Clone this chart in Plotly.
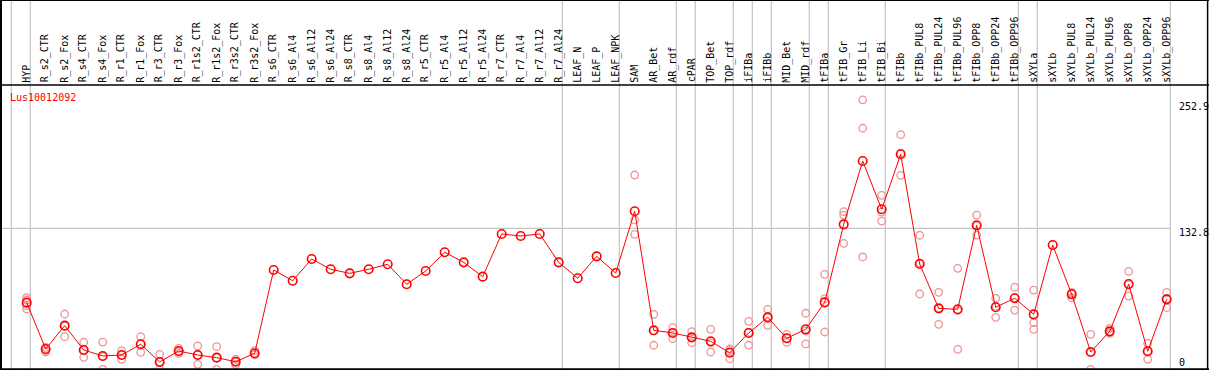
import plotly.graph_objects as go

# ---------------- data ----------------
categories = [
    "HYP", "R_s2_CTR", "R_s2_Fox", "R_s4_CTR", "R_s4_Fox", "R_r1_CTR", "R_r1_Fox",
    "R_r3_CTR", "R_r3_Fox", "R_r1s2_CTR", "R_r1s2_Fox", "R_r3s2_CTR", "R_r3s2_Fox",
    "R_s6_CTR", "R_s6_Al4", "R_s6_Al12", "R_s6_Al24", "R_s8_CTR", "R_s8_Al4",
    "R_s8_Al12", "R_s8_Al24", "R_r5_CTR", "R_r5_Al4", "R_r5_Al12", "R_r5_Al24",
    "R_r7_CTR", "R_r7_Al4", "R_r7_Al12", "R_r7_Al24", "LEAF_N", "LEAF_P", "LEAF_NPK",
    "SAM", "AR_Bet", "AR_rdf", "cPAR", "TOP_Bet", "TOP_rdf", "iFIBa", "iFIBb",
    "MID_Bet", "MID_rdf", "tFIBa", "tFIB_Gr", "tFIB_Li", "tFIB_Bi", "tFIBb",
    "tFIBb_PUL8", "tFIBb_PUL24", "tFIBb_PUL96", "tFIBb_OPP8", "tFIBb_OPP24",
    "tFIBb_OPP96", "sXYLa", "sXYLb", "sXYLb_PUL8", "sXYLb_PUL24", "sXYLb_PUL96",
    "sXYLb_OPP8", "sXYLb_OPP24", "sXYLb_OPP96",
]

mean_values = [
    63.3, 20.0, 41.8, 19.1, 13.5, 14.4, 24.4, 7.9, 18.1, 14.4, 11.9, 8.1, 16.0,
    93.8, 83.8, 104.1, 94.5, 90.7, 94.5, 99.2, 80.5, 92.9, 110.4, 101.0, 87.6,
    127.5, 125.6, 127.5, 101.0, 86.1, 106.6, 91.0,
    148.7, 37.5, 35.0, 30.9, 27.2, 16.5, 35.0, 49.6, 30.0, 38.4, 63.6,
    136.5, 195.7, 150.6, 202.0, 99.4, 58.0, 57.1, 135.6, 59.0, 67.4,
    52.4, 117.2, 71.1, 17.2, 36.5, 80.7, 17.9, 66.4,
]

replicate_values = [
    [68.0, 65.8, 60.5, 57.4], [21.6, 18.4, 17.2], [52.7, 41.5, 31.5], [26.3, 19.0, 12.2],
    [26.5, 13.0, 1.0], [18.4, 14.4, 10.4], [31.5, 24.5, 16.9], [15.0, 8.0, 1.0],
    [20.6, 17.5, 16.0], [22.8, 14.5, 5.7], [22.2, 12.0, 1.0], [10.4, 8.3, 5.5],
    [18.4, 15.3, 14.5],
    [], [], [], [], [], [], [], [], [], [], [], [], [], [], [], [], [], [], [],
    [182.6, 140.6, 127.2], [52.4, 37.0, 23.5], [39.9, 35.0, 29.6], [36.2, 30.5, 25.9],
    [38.4, 26.0, 17.2], [20.0, 18.5, 10.9], [45.9, 35.5, 23.5], [57.1, 49.5, 42.1],
    [33.7, 30.0, 26.3], [53.4, 37.0, 24.7], [89.8, 67.0, 35.9], [148.3, 145.2, 118.8],
    [252.9, 226.3, 106.0], [163.6, 148.0, 139.6], [220.3, 203.0, 182.3],
    [126.3, 100.5, 71.4], [73.0, 58.0, 43.1], [95.4, 56.0, 19.7], [145.2, 135.0, 126.5],
    [67.4, 60.0, 49.6], [77.7, 68.0, 56.4], [75.1, 44.6, 38.4], [],
    [73.0, 72.0, 67.9], [33.7, 17.0, 1.0], [39.3, 36.0, 34.7], [92.6, 80.0, 69.5],
    [25.3, 18.0, 10.4], [73.0, 67.0, 58.6],
]

gene_label = "Lus10012092"
y_tick_labels = ["252.9", "132.8", "0"]
grid_value = 132.8
# group separators: drawn after these categories ("" = before first)
separators_after = ["", "HYP", "R_r7_Al24", "LEAF_NPK", "AR_rdf", "cPAR", "TOP_rdf",
                    "iFIBa", "iFIBb", "MID_rdf", "tFIBa", "tFIB_Bi", "tFIBb_OPP96",
                    "sXYLa", "sXYLb_OPP96"]

# ---------------- layout geometry ----------------
W, H = 1209, 370
HEADER_PX = 85
FONT = "DejaVu Sans Mono"
GRAY = "#c4c4c4"


def py(pix):
    return 1 - pix / H


def px(pix):
    return pix / W


idx = list(range(len(categories)))
rx, ry = [], []
for i, reps in enumerate(replicate_values):
    for v in reps:
        rx.append(i)
        ry.append(v)

fig = go.Figure()
fig.add_trace(go.Scatter(
    x=rx, y=ry, mode="markers",
    marker=dict(symbol="circle-open", size=7.5, color="#ee9494", line=dict(width=1.3)),
    hoverinfo="skip", showlegend=False,
))
fig.add_trace(go.Scatter(
    x=idx, y=mean_values, mode="lines+markers",
    line=dict(color="#ff0000", width=1),
    marker=dict(symbol="circle-open", size=8.5, color="#ff0000", line=dict(width=1.6)),
    showlegend=False,
))

shapes = []
sep_offset = 0.19
for name in separators_after:
    k = -1 if name == "" else categories.index(name)
    shapes.append(dict(type="line", xref="x", yref="paper", x0=k + sep_offset, x1=k + sep_offset,
                       y0=0, y1=1, line=dict(color=GRAY, width=1.2), layer="below"))
shapes.append(dict(type="line", xref="paper", yref="y", x0=0, x1=px(1171), y0=grid_value, y1=grid_value,
                   line=dict(color=GRAY, width=1.2), layer="below"))
# header separator and frame
shapes.append(dict(type="line", xref="paper", yref="paper", x0=0, x1=1, y0=py(HEADER_PX), y1=py(HEADER_PX),
                   line=dict(color="black", width=1.3)))
shapes.append(dict(type="line", xref="paper", yref="paper", x0=px(1), x1=px(1), y0=0, y1=1,
                   line=dict(color="black", width=2)))
shapes.append(dict(type="line", xref="paper", yref="paper", x0=px(1207.6), x1=px(1207.6), y0=0, y1=1,
                   line=dict(color="black", width=1.5)))
shapes.append(dict(type="line", xref="paper", yref="paper", x0=0, x1=1, y0=py(0.5), y1=py(0.5),
                   line=dict(color="black", width=1.2)))
shapes.append(dict(type="line", xref="paper", yref="paper", x0=0, x1=1, y0=py(369.2), y1=py(369.2),
                   line=dict(color="black", width=2)))

annotations = []
for i, name in enumerate(categories):
    annotations.append(dict(
        x=i - 0.02, xref="x", y=py(83.5), yref="paper", text=name, textangle=-90,
        showarrow=False, xanchor="center", yanchor="bottom",
        font=dict(family=FONT, size=10, color="black"), borderpad=0,
    ))
annotations.append(dict(
    x=px(9), y=py(97.5), xref="paper", yref="paper", text=gene_label, showarrow=False,
    xanchor="left", yanchor="middle", font=dict(family=FONT, size=10, color="#ff0000"), borderpad=0,
))
label_pix = [106.7, 232.3, 362.3]
for t, p in zip(y_tick_labels, label_pix):
    annotations.append(dict(
        x=px(1177.5), y=py(p), xref="paper", yref="paper", text=t, showarrow=False,
        xanchor="left", yanchor="middle", font=dict(family=FONT, size=10, color="black"), borderpad=0,
    ))

# axis ranges so that category i sits at 26.7 + 19*i px, and value mapping ~1.07 px/unit
x_min = -26.7 / 19
x_max = x_min + W / 19
y_bottom_val = (370.4 - H) / 1.07
y_top_val = (370.4 - HEADER_PX) / 1.07

fig.update_layout(
    width=W, height=H,
    margin=dict(l=0, r=0, t=0, b=0),
    paper_bgcolor="white", plot_bgcolor="white",
    xaxis=dict(range=[x_min, x_max], domain=[0, 1], visible=False, fixedrange=True),
    yaxis=dict(range=[y_bottom_val, y_top_val], domain=[0, py(HEADER_PX)], visible=False, fixedrange=True),
    shapes=shapes, annotations=annotations,
)

fig.write_html(
    "out.html",
    config={"displayModeBar": False},
    post_script="document.body.style.margin='0px';document.body.style.overflow='hidden';",
)
